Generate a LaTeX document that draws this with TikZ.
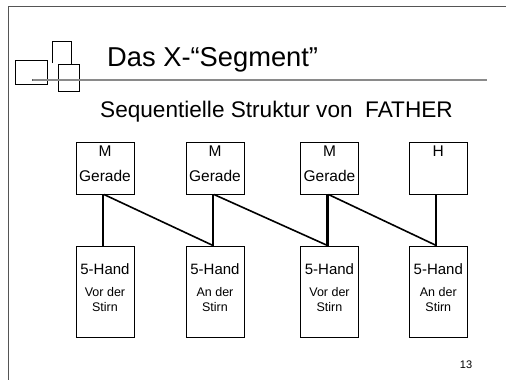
\documentclass[tikz,border=0pt]{standalone}
\usepackage{fontspec}
\setmainfont{Liberation Sans}
\usepackage{tikz}
\usetikzlibrary{positioning,calc}
\definecolor{FrameGray}{HTML}{555555}
\definecolor{RuleGray}{HTML}{8A8A8A}
\tikzset{
  TB/.style={rectangle,draw,line width=1pt,inner sep=0pt,
             minimum width=58pt,minimum height=52pt,text depth=9pt,
             align=center,font=\fontsize{15.5}{24.5}\selectfont},
  BB/.style={rectangle,draw,line width=1pt,inner sep=0pt,
             minimum width=58pt,minimum height=91pt,text depth=7pt,
             align=center,font=\fontsize{12.5}{15}\selectfont},
  lnkV/.style={line width=2.2pt},
  lnkD/.style={line width=1.6pt},
  deco/.style={line width=0.8pt,draw=black}
}

\begin{document}
\begin{tikzpicture}[x=1pt,y=-1pt]
  \useasboundingbox (0,0) rectangle (506,380);
  % slide frame and title decoration
  \draw[FrameGray,line width=1pt] (8,380) -- (8,6) -- (506,6);
  \draw[deco] (15,60) rectangle (47,84);
  \draw[deco] (52,63) -- (52,41) -- (71,41) -- (71,64);
  \draw[deco,fill=white] (58,64) rectangle (79,91);
  \draw[line width=2.4pt,gray!70!black] (32,80) -- (487,80);
  \draw[line width=1.2pt,RuleGray] (32.5,80) -- (486.5,80);

  \node[anchor=base west,inner sep=0pt,font=\fontsize{27.3}{28}\selectfont] (title) at (107,66) {Das X-“Segment”};
  \node[anchor=base west,inner sep=0pt,font=\fontsize{22.6}{24}\selectfont] (sub) at (100,117) {Sequentielle Struktur von\ \ FATHER};

  % top row
  \node[TB] (t1) at (105,168) {M\\Gerade};
  \node[TB] (t2) at (215,168) {M\\Gerade};
  \node[TB] (t3) at (329.5,168) {M\\Gerade};
  \node[TB] (t4) at (438.3,168) {H\\\phantom{Gerade}};

  % bottom row
  \node[BB] (b1) at (105,291.5) {{\fontsize{15}{15}\selectfont 5-Hand}\\[7pt]Vor der\\Stirn};
  \node[BB] (b2) at (215,291.5) {{\fontsize{15}{15}\selectfont 5-Hand}\\[7pt]An der\\Stirn};
  \node[BB] (b3) at (329.5,291.5) {{\fontsize{15}{15}\selectfont 5-Hand}\\[7pt]Vor der\\Stirn};
  \node[BB] (b4) at (438.3,291.5) {{\fontsize{15}{15}\selectfont 5-Hand}\\[7pt]An der\\Stirn};

  \draw[lnkV] ([xshift=-2pt]t1.south) -- ([xshift=-2pt]b1.north);
  \draw[lnkV] ([xshift=-2pt]t2.south) -- ([xshift=-2pt]b2.north);
  \draw[lnkV] ([xshift=-2pt]t3.south) -- ([xshift=-2pt]b3.north);
  \draw[lnkV] ([xshift=-2pt]t4.south) -- ([xshift=-2pt]b4.north);
  \draw[lnkD] ([xshift=-1pt]t1.south) -- ([xshift=-2pt]b2.north);
  \draw[lnkD] ([xshift=-1pt]t2.south) -- ([xshift=-2pt]b3.north);
  \draw[lnkD] ([xshift=-1pt]t3.south) -- ([xshift=-2pt]b4.north);

  \node[font=\fontsize{11}{11}\selectfont] (page) at (466,365) {13};
\end{tikzpicture}
\end{document}
